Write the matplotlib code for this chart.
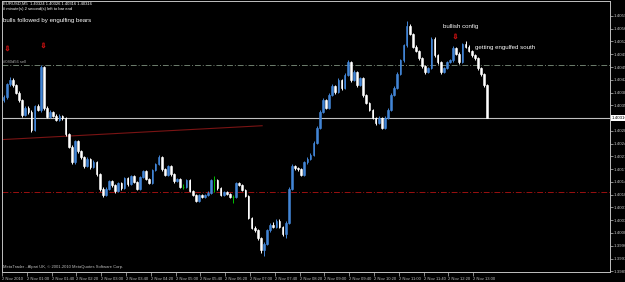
import numpy as np
import matplotlib.pyplot as plt
import matplotlib.transforms as mtrans

# EURUSD M5 bars
opens = [1.40365, 1.40373, 1.40408, 1.40419, 1.40405, 1.40384, 1.40365, 1.40324, 1.40343, 1.40332,
         1.40283, 1.40348, 1.40338, 1.40454, 1.40343, 1.40319, 1.40332, 1.40321, 1.40310, 1.40321,
         1.40316, 1.40272, 1.40237, 1.40194, 1.40251, 1.40224, 1.40207, 1.40183, 1.40202, 1.40180,
         1.40194, 1.40161, 1.40121, 1.40104, 1.40121, 1.40142, 1.40131, 1.40115, 1.40137, 1.40123,
         1.40150, 1.40134, 1.40156, 1.40140, 1.40121, 1.40153, 1.40169, 1.40148, 1.40137, 1.40172,
         1.40188, 1.40207, 1.40175, 1.40159, 1.40183, 1.40161, 1.40142, 1.40148, 1.40126, 1.40126,
         1.40145, 1.40115, 1.40104, 1.40088, 1.40104, 1.40099, 1.40104, 1.40110, 1.40145, 1.40145,
         1.40123, 1.40104, 1.40112, 1.40107, 1.40099, 1.40099, 1.40137, 1.40131, 1.40118, 1.40102,
         1.40042, 1.40015, 1.40007, 1.39985, 1.39952, 1.39971, 1.40007, 1.40023, 1.40017, 1.40034,
         1.40017, 1.39998, 1.40028, 1.40121, 1.40183, 1.40178, 1.40175, 1.40159, 1.40194, 1.40202,
         1.40215, 1.40248, 1.40289, 1.40332, 1.40365, 1.40343, 1.40378, 1.40403, 1.40386, 1.40419,
         1.40397, 1.40433, 1.40468, 1.40419, 1.40441, 1.40405, 1.40424, 1.40378, 1.40357, 1.40338,
         1.40316, 1.40302, 1.40316, 1.40289, 1.40316, 1.40338, 1.40378, 1.40397, 1.40435, 1.40473,
         1.40514, 1.40568, 1.40546, 1.40511, 1.40500, 1.40479, 1.40457, 1.40441, 1.40452, 1.40533,
         1.40487, 1.40468, 1.40441, 1.40452, 1.40468, 1.40473, 1.40508, 1.40492, 1.40468, 1.40517,
         1.40511, 1.40500, 1.40487, 1.40479, 1.40452, 1.40435, 1.40405]
highs = [1.40378, 1.40412, 1.40427, 1.40424, 1.40408, 1.40390, 1.40368, 1.40349, 1.40347, 1.40336,
         1.40352, 1.40353, 1.40460, 1.40457, 1.40347, 1.40337, 1.40335, 1.40325, 1.40326, 1.40324,
         1.40319, 1.40275, 1.40240, 1.40256, 1.40254, 1.40228, 1.40210, 1.40207, 1.40205, 1.40199,
         1.40197, 1.40164, 1.40125, 1.40127, 1.40146, 1.40145, 1.40134, 1.40141, 1.40140, 1.40154,
         1.40153, 1.40160, 1.40159, 1.40143, 1.40157, 1.40174, 1.40172, 1.40151, 1.40176, 1.40193,
         1.40213, 1.40210, 1.40178, 1.40187, 1.40186, 1.40164, 1.40152, 1.40151, 1.40135, 1.40149,
         1.40148, 1.40118, 1.40107, 1.40108, 1.40107, 1.40108, 1.40114, 1.40149, 1.40156, 1.40148,
         1.40126, 1.40116, 1.40115, 1.40110, 1.40104, 1.40141, 1.40140, 1.40134, 1.40121, 1.40105,
         1.40045, 1.40018, 1.40010, 1.39988, 1.39975, 1.40012, 1.40028, 1.40030, 1.40039, 1.40037,
         1.40020, 1.40033, 1.40126, 1.40188, 1.40187, 1.40181, 1.40178, 1.40198, 1.40207, 1.40220,
         1.40252, 1.40293, 1.40337, 1.40371, 1.40368, 1.40383, 1.40408, 1.40406, 1.40424, 1.40422,
         1.40438, 1.40474, 1.40471, 1.40446, 1.40444, 1.40429, 1.40427, 1.40381, 1.40360, 1.40341,
         1.40319, 1.40320, 1.40319, 1.40320, 1.40342, 1.40383, 1.40402, 1.40440, 1.40478, 1.40519,
         1.40582, 1.40573, 1.40549, 1.40514, 1.40503, 1.40482, 1.40460, 1.40456, 1.40538, 1.40536,
         1.40490, 1.40471, 1.40456, 1.40472, 1.40478, 1.40513, 1.40511, 1.40495, 1.40522, 1.40525,
         1.40514, 1.40503, 1.40490, 1.40482, 1.40455, 1.40438, 1.40408]
lows = [1.40360, 1.40368, 1.40403, 1.40400, 1.40380, 1.40360, 1.40318, 1.40320, 1.40326, 1.40278,
        1.40280, 1.40334, 1.40333, 1.40338, 1.40315, 1.40314, 1.40317, 1.40306, 1.40307, 1.40311,
        1.40267, 1.40232, 1.40188, 1.40190, 1.40219, 1.40202, 1.40178, 1.40180, 1.40175, 1.40177,
        1.40156, 1.40115, 1.40098, 1.40101, 1.40118, 1.40127, 1.40110, 1.40112, 1.40119, 1.40120,
        1.40130, 1.40131, 1.40136, 1.40117, 1.40118, 1.40150, 1.40144, 1.40133, 1.40134, 1.40169,
        1.40185, 1.40171, 1.40155, 1.40156, 1.40157, 1.40138, 1.40139, 1.40122, 1.40120, 1.40123,
        1.40111, 1.40100, 1.40084, 1.40085, 1.40095, 1.40096, 1.40100, 1.40106, 1.40112, 1.40119,
        1.40100, 1.40101, 1.40104, 1.40095, 1.40082, 1.40095, 1.40128, 1.40114, 1.40098, 1.40038,
        1.40010, 1.40002, 1.39980, 1.39945, 1.39938, 1.39968, 1.40004, 1.40013, 1.40014, 1.40013,
        1.39993, 1.39985, 1.40024, 1.40118, 1.40174, 1.40171, 1.40155, 1.40156, 1.40190, 1.40199,
        1.40212, 1.40245, 1.40286, 1.40328, 1.40339, 1.40340, 1.40375, 1.40382, 1.40383, 1.40393,
        1.40394, 1.40430, 1.40414, 1.40416, 1.40401, 1.40402, 1.40374, 1.40353, 1.40334, 1.40312,
        1.40297, 1.40299, 1.40284, 1.40286, 1.40313, 1.40335, 1.40375, 1.40394, 1.40432, 1.40470,
        1.40511, 1.40542, 1.40507, 1.40496, 1.40475, 1.40453, 1.40437, 1.40438, 1.40449, 1.40483,
        1.40464, 1.40437, 1.40438, 1.40449, 1.40465, 1.40470, 1.40488, 1.40464, 1.40465, 1.40507,
        1.40496, 1.40483, 1.40475, 1.40448, 1.40431, 1.40401, 1.40316]
closes = [1.40373, 1.40408, 1.40419, 1.40405, 1.40384, 1.40365, 1.40324, 1.40343, 1.40332, 1.40283,
          1.40348, 1.40338, 1.40454, 1.40343, 1.40319, 1.40332, 1.40321, 1.40310, 1.40321, 1.40316,
          1.40272, 1.40237, 1.40194, 1.40251, 1.40224, 1.40207, 1.40183, 1.40202, 1.40180, 1.40194,
          1.40161, 1.40121, 1.40104, 1.40121, 1.40142, 1.40131, 1.40115, 1.40137, 1.40123, 1.40150,
          1.40134, 1.40156, 1.40140, 1.40121, 1.40153, 1.40169, 1.40148, 1.40137, 1.40172, 1.40188,
          1.40207, 1.40175, 1.40159, 1.40183, 1.40161, 1.40142, 1.40148, 1.40126, 1.40126, 1.40145,
          1.40115, 1.40104, 1.40088, 1.40104, 1.40099, 1.40104, 1.40110, 1.40145, 1.40145, 1.40123,
          1.40104, 1.40112, 1.40107, 1.40099, 1.40099, 1.40137, 1.40131, 1.40118, 1.40102, 1.40042,
          1.40015, 1.40007, 1.39985, 1.39952, 1.39971, 1.40007, 1.40023, 1.40017, 1.40034, 1.40017,
          1.39998, 1.40028, 1.40121, 1.40183, 1.40178, 1.40175, 1.40159, 1.40194, 1.40202, 1.40215,
          1.40248, 1.40289, 1.40332, 1.40365, 1.40343, 1.40378, 1.40403, 1.40386, 1.40419, 1.40397,
          1.40433, 1.40468, 1.40419, 1.40441, 1.40405, 1.40424, 1.40378, 1.40357, 1.40338, 1.40316,
          1.40302, 1.40316, 1.40289, 1.40316, 1.40338, 1.40378, 1.40397, 1.40435, 1.40473, 1.40514,
          1.40568, 1.40546, 1.40511, 1.40500, 1.40479, 1.40457, 1.40441, 1.40452, 1.40533, 1.40487,
          1.40468, 1.40441, 1.40452, 1.40468, 1.40473, 1.40508, 1.40492, 1.40468, 1.40517, 1.40511,
          1.40500, 1.40487, 1.40479, 1.40452, 1.40435, 1.40405, 1.40316]

price_ticks = [1.39895, 1.39930, 1.39965, 1.40000, 1.40035, 1.40070, 1.40105, 1.40140, 1.40175,
               1.40210, 1.40245, 1.40280, 1.40350, 1.40385, 1.40420, 1.40455, 1.40490, 1.40525,
               1.40560, 1.40595]
time_labels = ['2 Nov 2010', '2 Nov 01:00', '2 Nov 01:40', '2 Nov 02:20', '2 Nov 03:00',
               '2 Nov 03:40', '2 Nov 04:20', '2 Nov 05:00', '2 Nov 05:40', '2 Nov 06:20',
               '2 Nov 07:00', '2 Nov 07:40', '2 Nov 08:20', '2 Nov 09:00', '2 Nov 09:40',
               '2 Nov 10:20', '2 Nov 11:00', '2 Nov 11:40', '2 Nov 12:20', '2 Nov 13:00']
bid = 1.40316
sell_level = 1.40460
stop_level = 1.40112
trend_x = [-0.5, 83.4]
trend_y = [1.40256, 1.40294]
arrows_x = [1.1, 12.7, 145.6]
arrows_y = [1.40506, 1.40514, 1.40541]

BLUE = '#4285d6'
GREY = '#c0c0c0'
FONT = 'Liberation Sans'

fig = plt.figure(figsize=(6.25, 2.82), dpi=100, facecolor='black')
ax = fig.add_axes([2 / 625, 10 / 282, 608 / 625, 271 / 282], facecolor='black')

o = np.array(opens)
c = np.array(closes)
x = np.arange(len(o))
cols = np.where(c > o, BLUE, np.where(c < o, 'white', '#00c000'))

ax.vlines(x, lows, highs, colors=cols, lw=0.7, zorder=3)
ax.bar(x, np.abs(c - o), bottom=np.minimum(o, c), width=0.55, color=cols,
       edgecolor=cols, linewidth=0.4, zorder=4)

ax.axhline(bid, color=GREY, lw=0.8, zorder=2)
ax.axhline(sell_level, color='#6e7e6e', lw=0.7, ls=(0, (6, 2, 1, 2)), zorder=1)
ax.axhline(stop_level, color='#9a1010', lw=0.7, ls=(0, (6, 2, 1, 2)), zorder=1)
ax.plot(trend_x, trend_y, color='#7a1414', lw=0.8, zorder=1)
ax.plot(arrows_x, arrows_y, ls='none', marker='$\u21e9$', ms=3.8, color='#c01010',
        markeredgewidth=0.3, zorder=5)

ax.text(-0.3, sell_level + 0.00004, '#040d56 sell', color='#a8a8a8', fontsize=3.0,
        family=FONT, va='bottom')
ax.text(-0.3, 1.40582, 'bulls followed by engulfing bears', color='white', fontsize=4.4,
        family=FONT, va='center')
ax.text(141.8, 1.40565, 'bullish config', color='white', fontsize=4.4,
        family=FONT, va='center')
ax.text(152.1, 1.40508, 'getting engulfed south', color='white', fontsize=4.4,
        family=FONT, va='center')

ax.set_xlim(-0.48, 195.6)
ax.set_ylim(1.39893, 1.40636)

ax.yaxis.tick_right()
ax.set_yticks(price_ticks)
ax.set_yticklabels(['%.5f' % p for p in price_ticks], family=FONT)
ax.tick_params(axis='y', colors=GREY, labelsize=3.2, length=2, width=0.5, pad=0.8)
ax.text(1.003, bid, '%.5f' % bid, transform=mtrans.blended_transform_factory(ax.transAxes, ax.transData),
        fontsize=3.2, color='black', va='center', ha='left', family=FONT,
        bbox=dict(facecolor='white', edgecolor='none', pad=0.6))

ax.set_xticks([8 * k - 0.5 for k in range(len(time_labels))])
ax.set_xticklabels(time_labels, family=FONT)
for lab in ax.get_xticklabels():
    lab.set_ha('left')
ax.tick_params(axis='x', colors=GREY, labelsize=3.0, length=3, width=0.5, pad=0.5)

for s in ax.spines.values():
    s.set_color(GREY)
    s.set_linewidth(0.7)

fig.text(3 / 625, 1 - 4 / 282, 'EURUSD,M5  1.40324 1.40326 1.40316 1.40316', color='white',
         fontsize=3.0, va='center', family=FONT)
fig.text(3 / 625, 1 - 9 / 282, '# minute(s) 2 second(s) left to bar end', color='white',
         fontsize=3.0, va='center', family=FONT)
fig.text(3 / 625, 1 - 267 / 282, 'MetaTrader - Alpari UK, \u00a9 2001-2010 MetaQuotes Software Corp.',
         color=GREY, fontsize=3.0, va='center', family=FONT)

fig.savefig('out.png', dpi=100, facecolor='black')
